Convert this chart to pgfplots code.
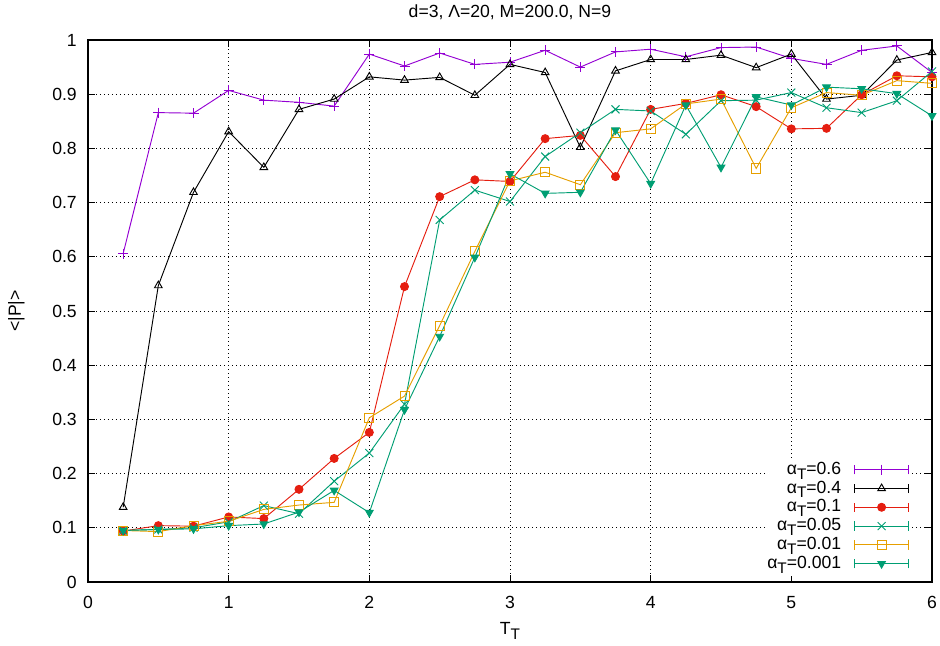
\documentclass[border=0pt,12pt]{standalone}
\usepackage{fontspec}
\setmainfont{Liberation Sans}
\usepackage{pgfplots}
\pgfplotsset{compat=1.18}
\definecolor{gpurple}{HTML}{9400D3}
\definecolor{gred}{HTML}{E51E10}
\definecolor{gteal}{HTML}{009E73}
\definecolor{gorange}{HTML}{E69F00}
\newcommand{\sub}[1]{\raisebox{-3.6pt}{\fontsize{11.5}{11.5}\selectfont #1}}
\begin{document}
\begin{tikzpicture}[font=\fontsize{13.2}{15}\selectfont]
\begin{axis}[name=ax,
  scale only axis, width=633pt, height=406.5pt,
  xmin=0, xmax=6, ymin=0, ymax=1,
  xtick={0,1,2,3,4,5,6},
  ytick={0,0.1,0.2,0.3,0.4,0.5,0.6,0.7,0.8,0.9,1},
  yticklabels={0,0.1,0.2,0.3,0.4,0.5,0.6,0.7,0.8,0.9,1},
  xticklabels={0,1,2,3,4,5,6},
  tick align=inside, major tick length=5.5pt,
  tick style={black, line width=0.6pt},
  axis line style={line width=1pt},
  grid=major,
  major grid style={black, line width=0.6pt, dash pattern=on 0.6pt off 2.4pt},
  /pgf/number format/assume math mode=true,
  xticklabel style={anchor=base, yshift=-19.5pt},
  yticklabel style={inner xsep=0pt, xshift=-8.25pt},
  title={d=3, Λ=20, M=200.0, N=9},
  every axis title shift=0pt,
  title style={at={(axis description cs:0.5,1)}, anchor=base, yshift=16.5pt},
  xlabel={T\sub{T}},
  xlabel style={at={(axis description cs:0.5,0)}, anchor=base, yshift=-39.5pt},
  ylabel={<|P|>},
  ylabel style={at={(axis description cs:-0.0794,0.5)}, anchor=base},
  clip=false,
  every axis plot/.append style={line width=0.7pt},
  legend cell align=right,
  legend plot pos=right,
  legend style={at={(axis description cs:1,0)}, anchor=south east, xshift=-15pt, yshift=4.5pt,
    draw=none, fill=white, inner sep=2pt, row sep=0pt, column sep=9.75pt,
    cells={anchor=east},
    nodes={inner xsep=0pt, inner ysep=0pt, text height=10.5pt, text depth=3.6pt}},
  legend image code/.code={
    \draw[mark repeat=2,mark phase=2,#1] plot coordinates {(0pt,0pt) (20.25pt,0pt) (40.5pt,0pt)};
    \draw[#1] (0pt,-3.5pt) -- (0pt,3.5pt) (40.5pt,-3.5pt) -- (40.5pt,3.5pt);
  },
]
\addplot[gpurple, mark=+, mark size=3.75pt, mark options={solid}] coordinates {
(0.25,0.606) (0.5,0.866) (0.75,0.865) (1,0.907) (1.25,0.889) (1.5,0.885) (1.75,0.878) (2,0.974)
(2.25,0.952) (2.5,0.976) (2.75,0.955) (3,0.959) (3.25,0.981) (3.5,0.950) (3.75,0.978) (4,0.983)
(4.25,0.969) (4.5,0.986) (4.75,0.987) (5,0.966) (5.25,0.955) (5.5,0.981) (5.75,0.989) (6,0.940)};
\addlegendentry{α\sub{T}=0.6}
\addplot[black, mark=triangle, mark size=3.3pt, mark options={solid}] coordinates {
(0.25,0.138) (0.5,0.547) (0.75,0.719) (1,0.831) (1.25,0.765) (1.5,0.872) (1.75,0.891) (2,0.932)
(2.25,0.926) (2.5,0.931) (2.75,0.898) (3,0.955) (3.25,0.940) (3.5,0.802) (3.75,0.943) (4,0.964)
(4.25,0.964) (4.5,0.972) (4.75,0.949) (5,0.974) (5.25,0.891) (5.5,0.898) (5.75,0.963) (6,0.977)};
\addlegendentry{α\sub{T}=0.4}
\addplot[gred, mark=*, mark size=3pt, mark options={solid}] coordinates {
(0.25,0.094) (0.5,0.104) (0.75,0.103) (1,0.120) (1.25,0.117) (1.5,0.171) (1.75,0.228) (2,0.276)
(2.25,0.545) (2.5,0.711) (2.75,0.742) (3,0.739) (3.25,0.818) (3.5,0.824) (3.75,0.748) (4,0.872)
(4.25,0.883) (4.5,0.899) (4.75,0.877) (5,0.836) (5.25,0.837) (5.5,0.899) (5.75,0.934) (6,0.932)};
\addlegendentry{α\sub{T}=0.1}
\addplot[gteal, mark=x, mark size=4.2pt, mark options={solid}] coordinates {
(0.25,0.095) (0.5,0.097) (0.75,0.100) (1,0.111) (1.25,0.141) (1.5,0.126) (1.75,0.186) (2,0.238)
(2.25,0.328) (2.5,0.668) (2.75,0.723) (3,0.702) (3.25,0.785) (3.5,0.829) (3.75,0.872) (4,0.869)
(4.25,0.826) (4.5,0.888) (4.75,0.889) (5,0.903) (5.25,0.875) (5.5,0.866) (5.75,0.888) (6,0.942)};
\addlegendentry{α\sub{T}=0.05}
\addplot[gorange, mark=square, mark size=3.4pt, mark options={solid}] coordinates {
(0.25,0.095) (0.5,0.093) (0.75,0.104) (1,0.112) (1.25,0.134) (1.5,0.142) (1.75,0.147) (2,0.303)
(2.25,0.343) (2.5,0.473) (2.75,0.610) (3,0.740) (3.25,0.756) (3.5,0.733) (3.75,0.829) (4,0.836)
(4.25,0.882) (4.5,0.891) (4.75,0.763) (5,0.875) (5.25,0.903) (5.5,0.898) (5.75,0.925) (6,0.920)};
\addlegendentry{α\sub{T}=0.01}
\addplot[gteal, mark=triangle*, mark size=3.3pt, mark options={solid, rotate=180}] coordinates {
(0.25,0.095) (0.5,0.097) (0.75,0.098) (1,0.104) (1.25,0.107) (1.5,0.129) (1.75,0.169) (2,0.128)
(2.25,0.318) (2.5,0.453) (2.75,0.599) (3,0.753) (3.25,0.717) (3.5,0.719) (3.75,0.834) (4,0.735)
(4.25,0.880) (4.5,0.765) (4.75,0.895) (5,0.880) (5.25,0.913) (5.5,0.910) (5.75,0.901) (6,0.860)};
\addlegendentry{α\sub{T}=0.001}
\end{axis}
\pgfresetboundingbox
\path[use as bounding box] ([shift={(-66pt,-47.25pt)}]ax.south west) rectangle ([shift={(6pt,30pt)}]ax.north east);
\end{tikzpicture}
\end{document}
